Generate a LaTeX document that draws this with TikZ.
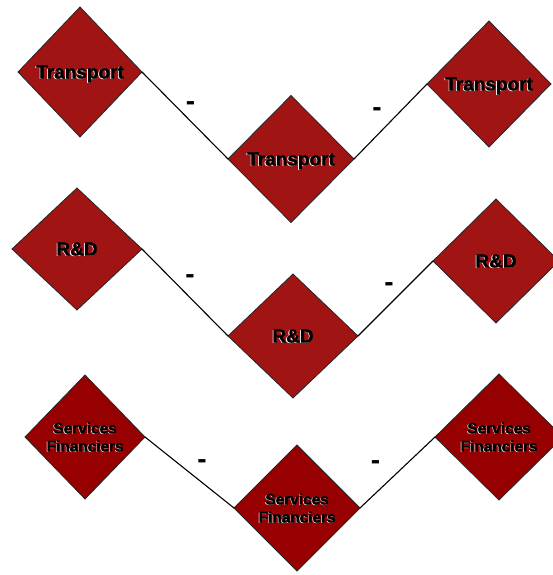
\documentclass[tikz,border=0pt]{standalone}
\usepackage{fontspec}
\setmainfont{Liberation Sans}
\newfontfamily\inkfont{Liberation Sans}[BoldFeatures={FakeBold=1.5}]
\newfontfamily\inkfontS{Liberation Sans}[BoldFeatures={FakeBold=2}]
\usetikzlibrary{shapes.geometric}
\definecolor{redA}{RGB}{160,20,20}
\definecolor{redB}{RGB}{150,0,0}
\tikzset{
  dia/.style={shape=diamond, draw=black!85, line width=0.8pt, fill=redA,
    inner sep=0pt, outer sep=0pt},
  diasmall/.style={dia, fill=redB},
  big/.style={inner sep=0pt, font=\fontsize{19}{19}\selectfont\bfseries, text depth=0pt, align=center},
  small/.style={inner sep=0pt, font=\fontsize{15.4}{18}\selectfont\bfseries, text depth=0pt, align=center},
  shade/.style={text=white, xshift=-0.9pt, yshift=-0.9pt},
  shadeS/.style={text=white, xshift=-0.6pt, yshift=-0.6pt},
  ink/.style={text=black},
  link/.style={draw=black, line width=1.1pt},
  minus/.style={inner sep=0pt, font=\fontsize{28}{28}\selectfont\bfseries, text depth=0pt, text height=0.54em}
}
\begin{document}
\begin{tikzpicture}[x=1pt,y=-1pt]
\useasboundingbox (0,0) rectangle (553,575);
% row 1
\node[dia, minimum width=124pt, minimum height=130pt] (t1) at (80,72) {};
\node[dia, minimum width=126pt, minimum height=127pt] (t2) at (291,159) {};
\node[dia, minimum width=124pt, minimum height=126pt] (t3) at (489,84) {};
% row 2
\node[dia, minimum width=130pt, minimum height=122pt] (r1) at (77,249) {};
\node[dia, minimum width=130pt, minimum height=124pt] (r2) at (293,336) {};
\node[dia, minimum width=126pt, minimum height=124pt] (r3) at (496,261) {};
% row 3
\node[diasmall, minimum width=120pt, minimum height=124pt] (s1) at (85,437) {};
\node[diasmall, minimum width=126pt, minimum height=126pt] (s2) at (297,508) {};
\node[diasmall, minimum width=128pt, minimum height=126pt] (s3) at (499,437) {};
% texts: white shade then black ink
\foreach \n in {t1,t2,t3}{
  \node[big,shade] (\n w) at (\n) {Transport};
  \node[big,ink] (\n b) at (\n) {\inkfont\bfseries Transport};
}
\foreach \n in {r1,r2,r3}{
  \node[big,shade] (\n w) at (\n) {R\&D};
  \node[big,ink] (\n b) at (\n) {\inkfont\bfseries R\&D};
}
\foreach \n in {s1,s2,s3}{
  \node[small,shadeS] (\n w) at (\n) {Services\\Financiers};
  \node[small,ink] (\n b) at (\n) {\inkfontS\bfseries Services\\\inkfontS\bfseries Financiers};
}
% connectors
\draw[link] (t1.east) -- (t2.west);
\draw[link] (t2.east) -- (t3.west);
\draw[link] (r1.east) -- (r2.west);
\draw[link] (r2.east) -- (r3.west);
\draw[link] (s1.east) -- (s2.west);
\draw[link] (s2.east) -- (s3.west);
% labels
\node[minus] (m1) at (190.5,107.5) {-};
\node[minus] (m2) at (377,114) {-};
\node[minus] (m3) at (190,281) {-};
\node[minus] (m4) at (389,289) {-};
\node[minus] (m5) at (202,466) {-};
\node[minus] (m6) at (375.5,466.5) {-};
\end{tikzpicture}
\end{document}
